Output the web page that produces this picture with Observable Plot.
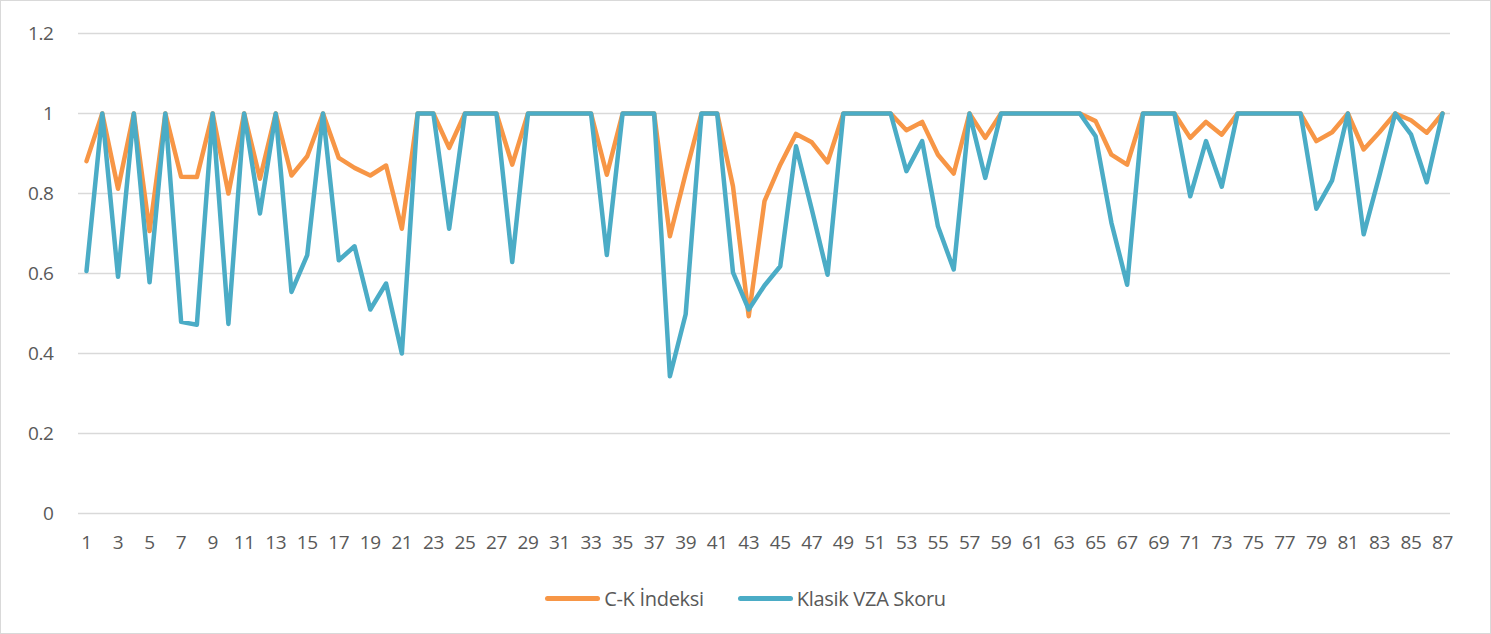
<!DOCTYPE html>
<html>
<head>
<meta charset="utf-8">
<script src="https://cdn.jsdelivr.net/npm/d3@7"></script>
<script src="https://cdn.jsdelivr.net/npm/@observablehq/plot@0.6"></script>
<style>
  html, body { margin: 0; padding: 0; background: #fff; }
  #wrap { width: 1491px; height: 634px; box-sizing: border-box; border: 1px solid #d9d9d9; position: relative; overflow: hidden;
          font-family: "Open Sans", "Noto Sans", sans-serif; color: #595959; }
  #legend { display: flex; justify-content: center; align-items: center; gap: 34px; font-size: 20px; margin-top: 10px; letter-spacing: -0.3px; }
  .item { display: flex; align-items: center; gap: 4px; }
  .sw { width: 55px; height: 5px; border-radius: 3px; }
</style>
</head>
<body>
<div id="wrap">
  <div id="chart"></div>
  <div id="legend"></div>
</div>
<script>
const seriesNames = ["C-K İndeksi", "Klasik VZA Skoru"];
const seriesColors = ["#F79646", "#4BACC6"];
const idx = d3.range(1, 88);
const ck = [0.881,1,0.812,1,0.706,1,0.842,0.841,1,0.80,
            1,0.837,1,0.845,0.893,1,0.889,0.864,0.845,0.87,
            0.712,1,1,0.914,1,1,1,0.872,1,1,
            1,1,1,0.847,1,1,1,0.693,0.85,1,
            1,0.818,0.493,0.781,0.872,0.949,0.928,0.878,1,1,
            1,1,0.958,0.979,0.897,0.85,1,0.939,1,1,
            1,1,1,1,0.981,0.897,0.872,1,1,1,
            0.939,0.979,0.947,1,1,1,1,1,0.931,0.953,
            1,0.91,0.953,1,0.983,0.952,1];
const vza = [0.606,1,0.592,1,0.578,1,0.479,0.472,1,0.474,
             1,0.75,1,0.554,0.646,1,0.633,0.668,0.51,0.575,
             0.40,1,1,0.712,1,1,1,0.629,1,1,
             1,1,1,0.646,1,1,1,0.343,0.498,1,
             1,0.603,0.51,0.57,0.618,0.918,0.76,0.597,1,1,
             1,1,0.856,0.931,0.718,0.61,1,0.839,1,1,
             1,1,1,1,0.943,0.727,0.572,1,1,1,
             0.793,0.931,0.817,1,1,1,1,1,0.762,0.833,
             1,0.698,0.845,1,0.948,0.828,1];
const yTicks = [0, 0.2, 0.4, 0.6, 0.8, 1, 1.2];
const xTicks = idx.filter(d => d % 2 === 1);

const rows = [];
idx.forEach((x, i) => {
  rows.push({x, v: ck[i], s: seriesNames[0]});
});
idx.forEach((x, i) => {
  rows.push({x, v: vza[i], s: seriesNames[1]});
});

const chart = Plot.plot({
  width: 1489,
  height: 574,
  marginLeft: 77,
  marginRight: 40,
  marginTop: 32,
  marginBottom: 62,
  style: {fontFamily: '"Open Sans", sans-serif', fontSize: "19px", color: "#595959", background: "#fff", letterSpacing: "-0.4px"},
  x: {type: "linear", domain: [1, 87], inset: 8, ticks: xTicks, tickFormat: d => String(d), label: null},
  y: {domain: [0, 1.2], ticks: yTicks, tickFormat: d => d === 0 ? "0" : d3.format("~g")(d), label: null},
  color: {domain: seriesNames, range: seriesColors},
  marks: [
    Plot.ruleY(yTicks, {stroke: "#d9d9d9", strokeWidth: 1.5}),
    Plot.axisY({ticks: yTicks, tickSize: 0, tickPadding: 25, tickFormat: d => d === 0 ? "0" : String(d), fill: "#595959"}),
    Plot.axisX({ticks: xTicks, tickSize: 0, tickPadding: 22, fill: "#595959"}),
    Plot.line(rows.filter(r => r.s === seriesNames[0]), {x: "x", y: "v", stroke: "s", strokeWidth: 4.5, strokeLinejoin: "round", strokeLinecap: "round"}),
    Plot.line(rows.filter(r => r.s === seriesNames[1]), {x: "x", y: "v", stroke: "s", strokeWidth: 4.5, strokeLinejoin: "round", strokeLinecap: "round"})
  ]
});
document.getElementById("chart").appendChild(chart);

const legend = document.getElementById("legend");
seriesNames.forEach((n, i) => {
  const it = document.createElement("div");
  it.className = "item";
  const sw = document.createElement("div");
  sw.className = "sw";
  sw.style.background = seriesColors[i];
  const t = document.createElement("span");
  t.textContent = n;
  it.appendChild(sw); it.appendChild(t);
  legend.appendChild(it);
});
</script>
</body>
</html>
